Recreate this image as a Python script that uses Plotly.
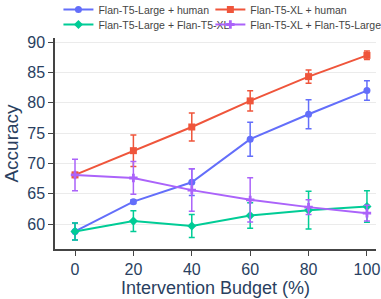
import plotly.graph_objects as go

budget = [0, 20, 40, 60, 80, 100]

large_human = [58.8, 63.7, 66.9, 74.0, 78.1, 82.0]
large_human_err = [1.4, 0.3, 2.2, 2.8, 2.4, 1.6]

xl_human = [68.1, 72.1, 76.0, 80.3, 84.3, 87.8]
xl_human_err = [0.4, 2.6, 2.3, 1.65, 1.1, 0.7]

large_xl = [58.8, 60.5, 59.7, 61.4, 62.3, 62.9]
large_xl_err = [1.4, 1.7, 1.9, 2.1, 3.1, 2.6]

xl_large = [68.1, 67.6, 65.6, 64.0, 62.8, 61.8]
xl_large_err = [2.6, 2.7, 3.5, 3.65, 1.2, 1.3]

names = ["Flan-T5-Large + human", "Flan-T5-XL + human",
         "Flan-T5-Large + Flan-T5-XL", "Flan-T5-XL + Flan-T5-Large"]
series = [large_human, xl_human, large_xl, xl_large]
errors = [large_human_err, xl_human_err, large_xl_err, xl_large_err]
colors = ["#636efa", "#EF553B", "#00cc96", "#ab63fa"]
symbols = ["circle", "square", "diamond", "cross"]
legend_ids = ["legend", "legend2", "legend3", "legend4"]

fig = go.Figure()
for n, y, e, c, s, lg in zip(names, series, errors, colors, symbols, legend_ids):
    fig.add_trace(go.Scatter(
        x=budget, y=y, name=n, mode="lines+markers", legend=lg,
        line=dict(color=c, width=2),
        marker=dict(symbol=s, size=7, color=c),
        error_y=dict(type="data", array=e, visible=True, color=c, thickness=1.5, width=3),
    ))

def leg(x, y):
    return dict(orientation="h", x=x, xanchor="left", y=y, yanchor="top",
                font=dict(size=10.5, color="#444"), bgcolor="rgba(0,0,0,0)")

fig.update_layout(
    template="plotly_white",
    width=381, height=299,
    margin=dict(l=55, r=5, t=38, b=50, autoexpand=False),
    font=dict(family="Arial", color="#2a3f5f"),
    legend=leg(0.0107, 1.2038),
    legend2=leg(0.484, 1.2038),
    legend3=leg(0.0107, 1.1327),
    legend4=leg(0.484, 1.1327),
    showlegend=True,
)
fig.update_xaxes(
    range=[-6.85, 103.1], tickvals=budget, showgrid=False, zeroline=False,
    showline=True, linecolor="#444", linewidth=1.5, ticks="outside", ticklen=5,
    tickcolor="#444", tickfont=dict(size=16), automargin=False,
    title=dict(text="Intervention Budget (%)", font=dict(size=18), standoff=4),
)
fig.update_yaxes(
    range=[55.9, 90.66], tickvals=[60, 65, 70, 75, 80, 85, 90], showgrid=True,
    gridcolor="#ebebeb", zeroline=False,
    showline=True, linecolor="#444", linewidth=1.5, ticks="outside", ticklen=5,
    tickcolor="#444", tickfont=dict(size=16), automargin=False,
    title=dict(text="Accuracy", font=dict(size=19), standoff=4),
)
fig.write_html("out.html", config={"displayModeBar": False},
               post_script="document.body.style.margin='0';")
